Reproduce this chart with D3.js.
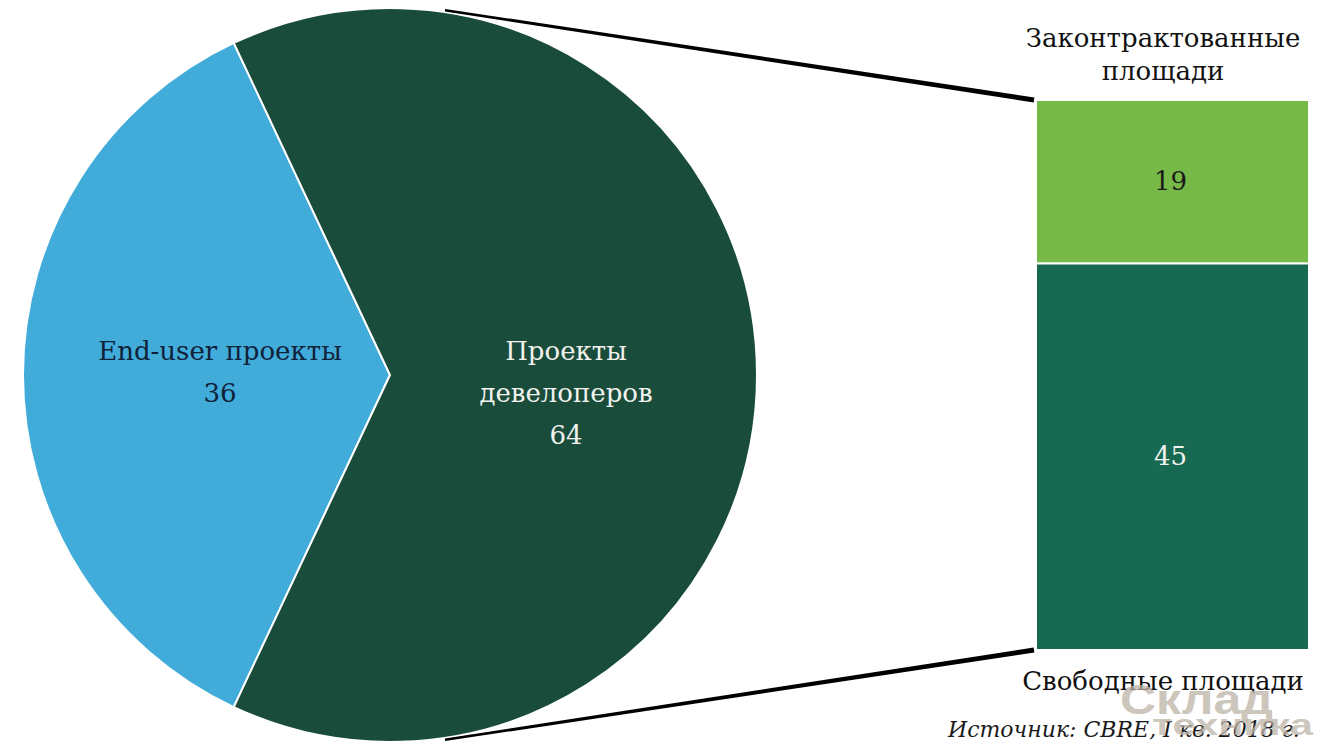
<!DOCTYPE html>
<html><head><meta charset="utf-8">
<script src="https://cdn.jsdelivr.net/npm/d3@7"></script>
<style>body{margin:0;background:#fff}svg{display:block}</style>
</head><body>
<svg id="c" width="1343" height="755"></svg>
<script>
const pieCategories = ["End-user проекты", "Проекты девелоперов"];
const pieValues = [36, 64];
const pieLabelLines = [["End-user проекты"], ["Проекты", "девелоперов"]];
const barCategories = ["Свободные площади", "Законтрактованные площади"];
const barValues = [45, 19];
const sourceText = "Источник: CBRE, I кв. 2018 г.";

const svg = d3.select("#c");
const font = "DejaVu Serif, serif";
const fs = 26;
const cx = 390, cy = 375, R = 367;
const pieColors = ["#41acd9", "#1a4c3c"];
const labelColors = ["#10213a", "#f2f2ee"];

const pie = d3.pie().sort(null).value(d => d)
  .startAngle(Math.PI * (1.5 - pieValues[0] / 100))
  .endAngle(Math.PI * (3.5 - pieValues[0] / 100));
const arcs = pie(pieValues);
const arc = d3.arc().innerRadius(0).outerRadius(R);

const g = svg.append("g").attr("transform", `translate(${cx},${cy})`);
g.selectAll("path").data(arcs).join("path")
  .attr("d", arc).attr("fill", (d, i) => pieColors[i])
  .attr("stroke", "#fff").attr("stroke-width", 2);

// pie labels
const labelPos = [[220 - cx, 360 - cy], [566 - cx, 360 - cy]];
arcs.forEach((a, i) => {
  const lines = pieLabelLines[i].concat([String(pieValues[i])]);
  const t = g.append("text").attr("text-anchor", "middle")
    .attr("font-family", font).attr("font-size", fs).attr("fill", labelColors[i]);
  lines.forEach((l, k) => t.append("tspan")
    .attr("x", labelPos[i][0]).attr("y", labelPos[i][1] + k * 42).text(l));
});

// stacked bar
const bx0 = 1036, bx1 = 1309;
const y = d3.scaleLinear().domain([0, d3.sum(barValues)]).range([650, 100]);
const barColors = ["#176a51", "#76b947"];
const stack = [];
let acc = 0;
barValues.forEach((v, i) => { stack.push([acc, acc + v]); acc += v; });
svg.selectAll("rect.bar").data(stack).join("rect")
  .attr("class", "bar")
  .attr("x", bx0).attr("width", bx1 - bx0)
  .attr("y", d => y(d[1])).attr("height", d => y(d[0]) - y(d[1]))
  .attr("fill", (d, i) => barColors[i])
  .attr("stroke", "#fff").attr("stroke-width", 2);
svg.selectAll("text.bv").data(stack).join("text")
  .attr("class", "bv").attr("text-anchor", "middle")
  .attr("x", (bx0 + bx1) / 2 - 2).attr("y", d => (y(d[0]) + y(d[1])) / 2 + 8)
  .attr("font-family", font).attr("font-size", fs)
  .attr("fill", (d, i) => i === 0 ? "#f2f2ee" : "#1a1a1a")
  .text((d, i) => barValues[i]);

// connector lines (tapered)
function taper(x0, y0, x1, y1, w0, w1) {
  const dx = x1 - x0, dy = y1 - y0, L = Math.hypot(dx, dy);
  const nx = -dy / L, ny = dx / L;
  return `M${x0 + nx * w0 / 2},${y0 + ny * w0 / 2}L${x1 + nx * w1 / 2},${y1 + ny * w1 / 2}` +
    `L${x1 - nx * w1 / 2},${y1 - ny * w1 / 2}L${x0 - nx * w0 / 2},${y0 - ny * w0 / 2}Z`;
}
const topX = 445;
const topY = cy - Math.sqrt(R * R - (topX - cx) ** 2);
const botY = cy + Math.sqrt(R * R - (topX - cx) ** 2);
svg.append("path").attr("d", taper(topX, topY - 2, bx0 - 2, y(acc), 2.5, 5)).attr("fill", "#000");
svg.append("path").attr("d", taper(topX, botY + 2, bx0 - 2, y(0), 2.5, 5)).attr("fill", "#000");

// bar category labels
const topLbl = svg.append("text").attr("text-anchor", "middle")
  .attr("font-family", font).attr("font-size", fs).attr("fill", "#111");
["Законтрактованные", "площади"].forEach((l, k) =>
  topLbl.append("tspan").attr("x", 1163).attr("y", 47 + k * 33).text(l));
svg.append("text").attr("text-anchor", "middle").attr("x", 1163).attr("y", 690)
  .attr("font-family", font).attr("font-size", fs).attr("fill", "#111")
  .text(barCategories[0]);

// source
svg.append("text").attr("x", 948).attr("y", 737)
  .attr("font-family", font).attr("font-style", "italic").attr("font-size", 22)
  .attr("fill", "#1a1a1a").text(sourceText);

// watermark (semi-transparent overlay, as in the reference)
svg.append("text").attr("x", 1120).attr("y", 714)
  .attr("font-family", "Liberation Sans, Arial, sans-serif").attr("font-weight", "bold")
  .attr("font-size", 42).attr("textLength", 153).attr("lengthAdjust", "spacingAndGlyphs")
  .attr("fill", "#bdb3a8").attr("opacity", 0.75).text("Склад");
svg.append("text").attr("x", 1152).attr("y", 735)
  .attr("font-family", "Liberation Sans, Arial, sans-serif").attr("font-weight", "bold")
  .attr("font-size", 30).attr("textLength", 161).attr("lengthAdjust", "spacingAndGlyphs")
  .attr("fill", "#bdb3a8").attr("opacity", 0.75).text("техника");
</script>
</body></html>
